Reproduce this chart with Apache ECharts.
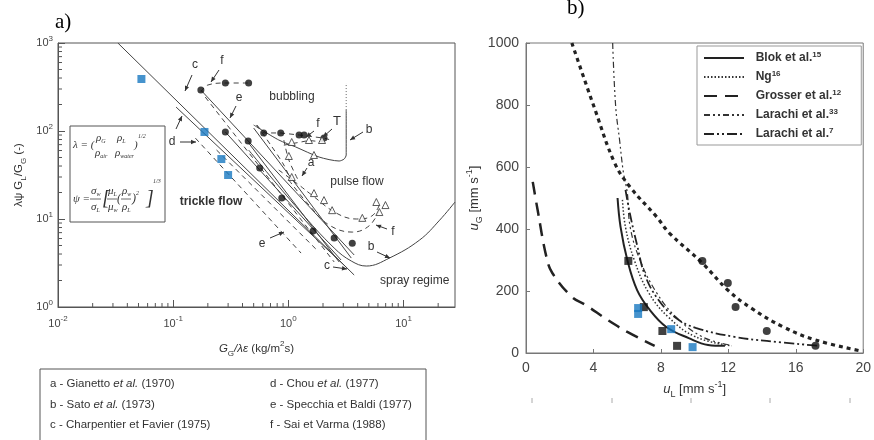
<!DOCTYPE html>
<html><head><meta charset="utf-8">
<script src="https://cdn.jsdelivr.net/npm/echarts@6/dist/echarts.min.js"></script>
<style>html,body{margin:0;padding:0;background:#fff}#c{width:874px;height:440px}</style>
</head><body><div id="c"></div>
<script>
// ================= Panel a data (log-log) =================
const aXDecades = [-2, -1, 0, 1];
const aYDecades = [0, 1, 2, 3];
const aLineC = [[0.0331,1000],[3.73,2.31]];
const aLineD = [[0.106,187],[3.24,2.77]];
const aLine3 = [[0.174,292],[3.73,3.9]];
const aLine4 = [[0.284,97.5],[2.87,3.42]];
const aLine5 = [[0.50,108],[3.52,3.6]];
const aLine6 = [[0.452,73],[2.76,3.25]];
const aDash1 = [[0.156,83],[1.29,4.1]];
const aDash2 = [[0.19,243],[2.5,3.25]];
const aDash3 = [[0.238,60.8],[1.77,4.44]];
const aCurveFTop = [[0.174,277],[0.2,333],[0.284,351],[0.452,351]];
const aCurveT = [[0.531,117],[0.611,95],[0.859,95],[1.24,90],[2.04,83],[2.26,80]];
const aCurveTri = [[0.914,69],[1.51,78],[2.04,75]];
const aCurveA1 = [[0.531,117],[0.703,69.3],[0.914,41.1],[1.05,27.7]];
const aCurveA2 = [[0.914,79],[1.01,46.8],[1.24,26.4]];
const aPulseF1 = [[0.826,36],[1.24,24.3],[1.6,18.7],[2.6,11.7],[3.89,10],[5.3,10.8],[6.17,14.4]];
const aPulseF2 = [[1.01,27.7],[1.51,14.4],[2.26,8.55],[3.59,7.1],[5.05,8.4],[6.17,12.6]];
const aCurveBUpper = [[0.5,117],[0.826,79],[1.16,65.8],[1.85,50.6],[2.76,45.6],[3.05,48],[3.18,53.4],[3.18,173]];
const aCurveBTop = [[3.18,173],[3.18,351]];
const aCurveBLower = [[0.452,60.8],[1.24,12.6],[2.5,4.68],[3.52,3.33],[4.75,2.92],[7.55,3.6],[13.8,5.77],[20.6,9.7],[28,15.6]];
const aBlueSquares = [[0.053,390],[0.187,97.5],[0.262,48],[0.30,31.6]];
const aDots = [[0.174,292],[0.284,351],[0.452,351],[0.284,97.5],[0.448,77],[0.564,38],[0.877,17.3],[0.611,95],[0.859,95],[1.24,90],[1.37,90],[2.04,83],[1.64,7.3],[2.5,6.1],[3.59,5.3]];
const aTriangles = [[1.07,75],[1.51,79],[1.96,79],[1.01,52],[1.67,53.4],[1.07,30],[1.67,19.7],[2.04,16.4],[2.4,12.6],[4.39,10.3],[5.81,15.6],[6.97,14.4],[6.17,12]];
const aLegendLeft = [['a - Gianetto ','et al.',' (1970)'],['b - Sato ','et al.',' (1973)'],['c - Charpentier et Favier (1975)','','']];
const aLegendRight = [['d - Chou ','et al.',' (1977)'],['e - Specchia et Baldi (1977)','',''],['f - Sai et Varma (1988)','','']];

// ================= Panel b data (linear) =================
const bXTicks = [0, 4, 8, 12, 16, 20];
const bYTicks = [0, 200, 400, 600, 800, 1000];
const bLegendNames = ['Blok et al.', 'Ng', 'Grosser et al.', 'Larachi et al.', 'Larachi et al.'];
const bLegendRefs = ['15', '16', '12', '33', '7'];
const bBlok = [[5.43,500],[5.61,406],[6.01,300],[6.59,203],[7.34,139],[8.32,84],[9.65,48],[10.8,26],[11.8,23]];
const bNg = [[5.72,494],[5.9,406],[6.42,300],[7.28,194],[8.44,116],[10.06,52],[12.2,23]];
const bGrosser = [[0.40,552],[0.69,461],[1.21,310],[1.56,258],[2.72,181],[3.53,155],[4.86,106],[6.01,68],[7.63,23]];
const bLarachi33 = [[5.14,1000],[5.32,794],[5.55,687],[5.78,581],[6.01,516],[6.18,406],[6.76,300],[7.75,194],[8.9,116],[10.46,52],[12.08,26]];
const bLarachi7 = [[5.9,526],[6.18,445],[6.59,348],[7.05,252],[7.86,171],[8.9,113],[10.06,81],[12.37,52],[14.28,39],[17.4,23]];
const bDotted = [[2.72,1000],[4.10,784],[5.26,613],[6.18,535],[7.75,439],[8.50,387],[10.46,290],[11.97,203],[13.35,145],[15.26,84],[17.17,42],[19.88,6.5]];
const bDots = [[10.46,297],[11.97,226],[12.43,148],[14.28,71],[17.17,23]];
const bBlackSquares = [[6.07,297],[6.99,148],[8.09,71],[8.96,23]];
const bBlueSquares = [[6.65,145],[6.65,126],[8.61,77],[9.88,19]];

// ================= build =================
const FONT = '"Liberation Sans", Arial, sans-serif';
const SERIF = '"Liberation Serif", "Times New Roman", serif';
const BLUE = '#1878c0';
const GREY = '#444';

function richSet(size, color, bold) {
  const w = bold ? 'bold' : 'normal';
  const lh = size + 6;
  return {
    n: {fontSize: size, lineHeight: lh, color, fontFamily: FONT, fontWeight: w},
    i: {fontSize: size, lineHeight: lh, color, fontFamily: FONT, fontStyle: 'italic', fontWeight: w},
    sup: {fontSize: Math.round(size * 0.7), lineHeight: Math.round(size * 0.7) + 2, verticalAlign: 'top', color, fontFamily: FONT, fontWeight: w},
    sub: {fontSize: Math.round(size * 0.7), lineHeight: Math.round(size * 0.7) + 2, verticalAlign: 'bottom', color, fontFamily: FONT, fontWeight: w}
  };
}
function pow10Label(v) {
  const l = Math.log10(v); const k = Math.round(l);
  if (Math.abs(l - k) > 1e-3) return '';
  return '{n|10}{sup|' + k + '}';
}

const aMinorX = [];
for (const k of aXDecades) for (let m = 2; m <= 9; m++) { const v = m * Math.pow(10, k); if (v < 28) aMinorX.push(v); }
const aMinorY = [];
for (const k of aYDecades.slice(0, 3)) for (let m = 2; m <= 9; m++) aMinorY.push(m * Math.pow(10, k));

function lineA(data, dashed, extra) {
  return Object.assign({type: 'line', xAxisIndex: 0, yAxisIndex: 0, data, symbol: 'none', silent: true,
    lineStyle: {color: GREY, width: 1, type: dashed ? [5, 4] : 'solid'}}, extra || {});
}
function lineB(name, data, ls) {
  return {name, type: 'line', xAxisIndex: 1, yAxisIndex: 1, data, symbol: 'none', smooth: 0.4, silent: true,
    itemStyle: {color: ls.color}, lineStyle: ls};
}

const series = [
  lineA(aLineC, false), lineA(aLineD, false), lineA(aLine3, false), lineA(aLine4, false),
  lineA(aLine5, false), lineA(aLine6, false),
  lineA(aDash1, true), lineA(aDash2, true), lineA(aDash3, true),
  lineA(aCurveFTop, true, {smooth: 0.4}), lineA(aCurveT, true), lineA(aCurveTri, true),
  lineA(aCurveA1, true, {smooth: 0.3}), lineA(aCurveA2, true, {smooth: 0.3}),
  lineA(aPulseF1, true, {smooth: 0.4}), lineA(aPulseF2, true, {smooth: 0.4}),
  lineA(aCurveBUpper, false, {smooth: 0.25}),
  lineA(aCurveBTop, false, {lineStyle: {color: '#666', width: 1, type: [1, 2]}}),
  lineA(aCurveBLower, false, {smooth: 0.4}),
  {type: 'scatter', xAxisIndex: 0, yAxisIndex: 0, data: aBlueSquares, symbol: 'rect', symbolSize: 8, itemStyle: {color: BLUE}, silent: true, z: 5},
  {type: 'scatter', xAxisIndex: 0, yAxisIndex: 0, data: aDots, symbol: 'circle', symbolSize: 7, itemStyle: {color: '#111'}, silent: true, z: 5},
  {type: 'scatter', xAxisIndex: 0, yAxisIndex: 0, data: aTriangles, symbol: 'triangle', symbolSize: 7, itemStyle: {color: '#fff', borderColor: '#333', borderWidth: 1}, silent: true, z: 5},
  {type: 'custom', xAxisIndex: 0, yAxisIndex: 0, silent: true, clip: false, data: aMinorX.map(v => [v, 1]),
    renderItem: (p, api) => { const c = api.coord([api.value(0), api.value(1)]);
      return {type: 'line', shape: {x1: c[0], y1: c[1], x2: c[0], y2: c[1] - 4}, style: {stroke: '#555', lineWidth: 1}}; }},
  {type: 'custom', xAxisIndex: 0, yAxisIndex: 0, silent: true, clip: false, data: aMinorY.map(v => [0.01, v]),
    renderItem: (p, api) => { const c = api.coord([api.value(0), api.value(1)]);
      return {type: 'line', shape: {x1: c[0], y1: c[1], x2: c[0] + 4, y2: c[1]}, style: {stroke: '#555', lineWidth: 1}}; }},
  // panel b
  lineB('Blok et al.|15', bBlok, {color: '#222', width: 2, type: 'solid'}),
  lineB('Ng|16', bNg, {color: '#333', width: 1.5, type: [1.5, 2]}),
  lineB('Grosser et al.|12', bGrosser, {color: '#222', width: 2.5, type: [13, 8]}),
  lineB('Larachi et al.|33', bLarachi33, {color: '#333', width: 1.2, type: [6, 3, 2, 3, 2, 3]}),
  lineB('Larachi et al.|7', bLarachi7, {color: '#222', width: 1.8, type: [10, 3, 2, 3, 2, 3]}),
  {type: 'line', xAxisIndex: 1, yAxisIndex: 1, data: bDotted, symbol: 'none', smooth: 0.4, silent: true,
    lineStyle: {color: '#222', width: 3.2, type: [4, 4]}},
  {type: 'scatter', xAxisIndex: 1, yAxisIndex: 1, data: bDots, symbol: 'circle', symbolSize: 8, itemStyle: {color: '#111'}, silent: true, z: 5},
  {type: 'scatter', xAxisIndex: 1, yAxisIndex: 1, data: bBlackSquares, symbol: 'rect', symbolSize: 8, itemStyle: {color: '#111'}, silent: true, z: 5},
  {type: 'scatter', xAxisIndex: 1, yAxisIndex: 1, data: bBlueSquares, symbol: 'rect', symbolSize: 8, itemStyle: {color: BLUE}, silent: true, z: 6}
];

// ---------- annotations (graphic) ----------
const g = [];
function txt(t, x, y, opt) {
  opt = opt || {};
  g.push({type: 'text', x, y, z: 100, silent: true, style: Object.assign({text: t, fill: '#333', font: (opt.bold ? 'bold ' : '') + (opt.size || 12) + 'px ' + FONT,
    align: opt.align || 'center', verticalAlign: 'middle'}, opt.rich ? {rich: opt.rich} : {})});
}
function arrow(x1, y1, x2, y2) {
  const a = Math.atan2(y2 - y1, x2 - x1), L = 5, w = 2.2;
  g.push({type: 'line', z: 100, silent: true, shape: {x1, y1, x2, y2}, style: {stroke: '#333', lineWidth: 1}});
  g.push({type: 'polygon', z: 100, silent: true, shape: {points: [[x2, y2],
    [x2 - L * Math.cos(a) + w * Math.sin(a), y2 - L * Math.sin(a) - w * Math.cos(a)],
    [x2 - L * Math.cos(a) - w * Math.sin(a), y2 - L * Math.sin(a) + w * Math.cos(a)]]}, style: {fill: '#333'}});
}
// panel labels
g.push({type: 'text', x: 55, y: 22, z: 100, style: {text: 'a)', font: '21px ' + SERIF, fill: '#000', verticalAlign: 'middle'}});
g.push({type: 'text', x: 567, y: 8, z: 100, style: {text: 'b)', font: '21px ' + SERIF, fill: '#000', verticalAlign: 'middle'}});
// panel a region labels
txt('c', 195, 65); arrow(192, 75, 185, 91);
txt('f', 222, 61); arrow(219, 70, 211, 82);
txt('e', 239, 98); arrow(236, 106, 230, 118);
txt('d', 172, 142); arrow(176, 129, 182, 116); arrow(180, 142, 196, 142);
txt('bubbling', 292, 97, {size: 12});
txt('f', 318, 124); arrow(314, 131, 306, 137);
txt('T', 337, 121, {size: 13}); arrow(332, 129, 323, 137);
txt('b', 369, 130); arrow(363, 132, 350, 140);
txt('a', 311, 163); arrow(307, 168, 302, 176);
txt('pulse flow', 357, 182, {size: 12});
txt('trickle flow', 211, 202, {size: 12, bold: true});
txt('e', 262, 244); arrow(270, 238, 284, 232);
txt('f', 393, 232); arrow(387, 229, 376, 225);
txt('b', 371, 247); arrow(377, 252, 390, 258);
txt('c', 327, 266); arrow(333, 267, 347, 269);
txt('spray regime', 380, 281, {size: 12, align: 'left'});
// formula box
g.push({type: 'rect', z: 90, shape: {x: 70, y: 126, width: 95, height: 96}, style: {fill: '#fff', stroke: '#555', lineWidth: 1}});
function ftxt(t, x, y, size, rich) {
  g.push({type: 'text', x, y, z: 101, silent: true, style: Object.assign({text: t, fill: '#333', font: 'italic ' + (size || 10) + 'px ' + SERIF, align: 'left', verticalAlign: 'middle'}, rich ? {rich} : {})});
}
const fr = {s: {fontSize: 6, fontStyle: 'italic', fontFamily: SERIF, verticalAlign: 'bottom', lineHeight: 13}, n: {fontSize: 11, fontStyle: 'italic', fontFamily: SERIF, lineHeight: 13}};
ftxt('λ = (', 73, 145, 11);
ftxt('{n|ρ}{s|G}', 96, 138, 11, fr); ftxt('{n|ρ}{s|L}', 117, 138, 11, fr);
ftxt('{n|ρ}{s|air}', 95, 153, 11, fr); ftxt('{n|ρ}{s|water}', 115, 153, 11, fr);
ftxt(')', 134, 145, 11); ftxt('1/2', 138, 136, 6);
ftxt('ψ =', 73, 199, 11);
ftxt('{n|σ}{s|w}', 91, 191, 11, fr); ftxt('{n|σ}{s|L}', 91, 207, 11, fr);
g.push({type: 'line', z: 101, shape: {x1: 90, y1: 199, x2: 101, y2: 199}, style: {stroke: '#444', lineWidth: 0.8}});
ftxt('[', 102, 199, 20);
ftxt('{n|μ}{s|L}', 108, 191, 11, fr); ftxt('{n|μ}{s|w}', 108, 207, 11, fr);
g.push({type: 'line', z: 101, shape: {x1: 107, y1: 199, x2: 117, y2: 199}, style: {stroke: '#444', lineWidth: 0.8}});
ftxt('(', 117, 199, 12);
ftxt('{n|ρ}{s|w}', 122, 191, 11, fr); ftxt('{n|ρ}{s|L}', 122, 207, 11, fr);
g.push({type: 'line', z: 101, shape: {x1: 121, y1: 199, x2: 131, y2: 199}, style: {stroke: '#444', lineWidth: 0.8}});
ftxt(')', 132, 199, 12); ftxt('2', 136, 193, 6);
ftxt(']', 146, 199, 20); ftxt('1/3', 153, 181, 6);
// panel a bottom legend box
g.push({type: 'rect', z: 90, shape: {x: 40, y: 369, width: 386, height: 80}, style: {fill: '#fff', stroke: '#555', lineWidth: 1}});
const legRich = {n: {fontSize: 11.5, fontFamily: FONT, fill: '#333'}, i: {fontSize: 11.5, fontFamily: FONT, fontStyle: 'italic', fill: '#333'}};
function legLine(parts, x, y) {
  let s = '{n|' + parts[0] + '}';
  if (parts[1]) s += '{i|' + parts[1] + '}';
  if (parts[2]) s += '{n|' + parts[2] + '}';
  g.push({type: 'text', x, y, z: 101, silent: true, style: {text: s, rich: legRich, align: 'left', verticalAlign: 'middle', fill: '#333', font: '11.5px ' + FONT}});
}
aLegendLeft.forEach((p, i) => legLine(p, 50, 384 + i * 20.5));
aLegendRight.forEach((p, i) => legLine(p, 270, 384 + i * 20.5));
// faint marks under panel b
[532, 612, 691, 770, 850].forEach(x => g.push({type: 'line', z: 100, shape: {x1: x, y1: 398, x2: x, y2: 403}, style: {stroke: '#aaa', lineWidth: 1}}));

const aTickRich = richSet(11, '#444');
const bTickStyle = {fontSize: 14, color: '#444', fontFamily: FONT};

const option = {
  backgroundColor: '#fff',
  animation: false,
  grid: [
    {left: 58, top: 43, width: 397, height: 264, show: true, borderColor: '#555', borderWidth: 1, backgroundColor: 'transparent'},
    {left: 526, top: 43, width: 346, height: 310, show: true, borderColor: '#777', borderWidth: 1, backgroundColor: 'transparent'}
  ],
  xAxis: [
    {gridIndex: 0, type: 'log', logBase: 10, min: Math.pow(10, aXDecades[0]), max: 28,
      axisLine: {lineStyle: {color: '#555'}}, axisTick: {inside: true, length: 7, lineStyle: {color: '#555'}},
      axisLabel: {formatter: pow10Label, margin: 8, rich: aTickRich, showMaxLabel: false},
      splitLine: {show: false}, minorTick: {show: false},
      name: '{i|G}{sub|G}{i|/λε} {n|(kg/m}{sup|2}{n|s)}', nameLocation: 'middle', nameGap: 33,
      nameTextStyle: {rich: richSet(11.5, '#333')}},
    {gridIndex: 1, type: 'value', min: bXTicks[0], max: bXTicks[bXTicks.length - 1], interval: bXTicks[1] - bXTicks[0],
      axisLine: {lineStyle: {color: '#777'}}, axisTick: {inside: true, length: 4, lineStyle: {color: '#777'}},
      axisLabel: Object.assign({margin: 8, formatter: v => String(v)}, bTickStyle), splitLine: {show: false},
      name: '{i|u}{sub|L}{n| [mm s}{sup|-1}{n|]}', nameLocation: 'middle', nameGap: 26,
      nameTextStyle: {rich: richSet(13, '#333')}}
  ],
  yAxis: [
    {gridIndex: 0, type: 'log', logBase: 10, min: Math.pow(10, aYDecades[0]), max: Math.pow(10, aYDecades[aYDecades.length - 1]),
      axisLine: {lineStyle: {color: '#555'}}, axisTick: {inside: true, length: 7, lineStyle: {color: '#555'}},
      axisLabel: {formatter: pow10Label, margin: 5, rich: aTickRich},
      splitLine: {show: false},
      name: '{n|λψ G}{sub|L}{n|/G}{sub|G}{n| (-)}', nameLocation: 'middle', nameGap: 30, nameRotate: 90,
      nameTextStyle: {rich: richSet(11.5, '#333')}},
    {gridIndex: 1, type: 'value', min: bYTicks[0], max: bYTicks[bYTicks.length - 1], interval: bYTicks[1] - bYTicks[0],
      axisLine: {lineStyle: {color: '#777'}}, axisTick: {inside: true, length: 4, lineStyle: {color: '#777'}},
      axisLabel: Object.assign({margin: 7, formatter: v => String(v)}, bTickStyle), splitLine: {show: false},
      name: '{i|u}{sub|G}{n| [mm s}{sup|-1}{n|]}', nameLocation: 'middle', nameGap: 42, nameRotate: 90,
      nameTextStyle: {rich: richSet(13, '#333')}}
  ],
  legend: {
    data: bLegendNames.map((n, i) => n + '|' + bLegendRefs[i]),
    orient: 'vertical', left: 697, top: 46, itemWidth: 40, itemHeight: 12, itemGap: 6,
    padding: [5, 20, 5, 6], borderColor: '#999', borderWidth: 1, backgroundColor: '#fff',
    selectedMode: false,
    itemStyle: {opacity: 0},
    formatter: name => { const p = name.split('|'); return '{b|  ' + p[0] + '}{s|' + p[1] + '}'; },
    textStyle: {fontWeight: 'bold', fontSize: 12, color: '#333', fontFamily: FONT,
      rich: {b: {fontWeight: 'bold', fontSize: 12, color: '#333', fontFamily: FONT, lineHeight: 14},
             s: {fontWeight: 'bold', fontSize: 8, color: '#333', fontFamily: FONT, verticalAlign: 'top', lineHeight: 9}}}
  },
  graphic: g,
  series
};
const chart = echarts.init(document.getElementById('c'));
chart.setOption(option);
</script></body></html>
